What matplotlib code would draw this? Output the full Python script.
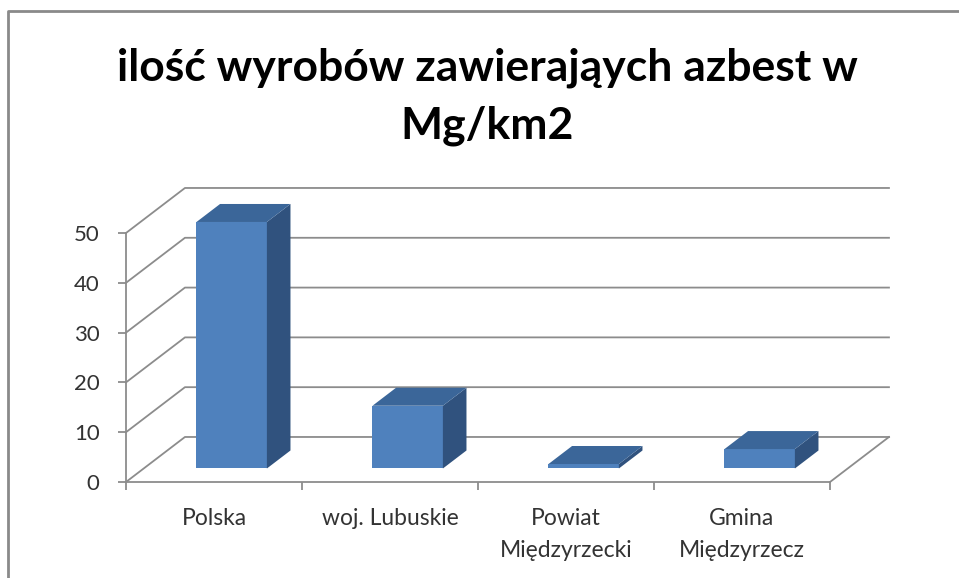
import matplotlib
matplotlib.use("Agg")
import matplotlib.pyplot as plt
from matplotlib.lines import Line2D
import numpy as np

plt.rcParams['font.family'] = ['Lato', 'DejaVu Sans']

categories = ["Polska", "woj. Lubuskie", "Powiat\nMiędzyrzecki", "Gmina\nMiędzyrzecz"]
values = [49.5, 12.6, 0.9, 3.9]
yticks = [0, 10, 20, 30, 40, 50]
title = "ilość wyrobów zawierająych azbest w\nMg/km2"

# 3D look parameters (in data units)
DX = 0.335   # depth shift along category axis
DY = 9.04    # depth shift along value axis
D0, D1 = 0.30, 0.70  # bar depth range (fractions)
BW = 0.4

front_c = "#4F81BD"
top_c = "#3B6699"
side_c = "#30527E"
grid_c = "#8C8C8C"
text_c = "#333333"

W, H = 959, 578
fig = plt.figure(figsize=(W / 100, H / 100), dpi=100)
ax = fig.add_axes([126 / W, (H - 482) / H, 704 / W, 249 / H])
n = len(categories)
ax.set_xlim(0, n)
ax.set_ylim(0, 50)

# wall / floor grid
for v in yticks:
    ax.plot([0, DX, n + DX], [v, v + DY, v + DY], color=grid_c, lw=1.3,
            clip_on=False, zorder=1)
ax.plot([n, n + DX], [0, DY], color=grid_c, lw=1.3, clip_on=False, zorder=1)

# bars
xc = np.arange(n) + 0.5
xf = xc + D0 * DX
bot = D0 * DY
ax.bar(xf, values, width=BW, bottom=bot, color=front_c, zorder=3, clip_on=False)
ddx = (D1 - D0) * DX
ddy = (D1 - D0) * DY
for x, v in zip(xf, values):
    xl, xr = x - BW / 2, x + BW / 2
    top = bot + v
    ax.fill([xr, xr + ddx, xr + ddx, xr], [bot, bot + ddy, top + ddy, top],
            color=side_c, zorder=3, clip_on=False, lw=0)
    ax.fill([xl, xr, xr + ddx, xl + ddx], [top, top, top + ddy, top + ddy],
            color=top_c, zorder=3, clip_on=False, lw=0)

# axes styling
for s in ["top", "right"]:
    ax.spines[s].set_visible(False)
for s in ["left", "bottom"]:
    ax.spines[s].set_color(grid_c)
    ax.spines[s].set_linewidth(1.3)
ax.set_yticks(yticks)
ax.set_yticklabels([str(t) for t in yticks])
ax.set_xticks(np.arange(n + 1))
ax.set_xticklabels([])
ax.set_xticks(xc, minor=True)
ax.set_xticklabels(categories, minor=True, linespacing=1.64)
ax.tick_params(axis="y", direction="out", length=6, width=1.3, color=grid_c,
               pad=13, labelsize=16, labelcolor=text_c)
ax.tick_params(axis="x", which="major", direction="out", length=6, width=1.3,
               color=grid_c)
ax.tick_params(axis="x", which="minor", length=0, pad=19, labelsize=16.5,
               labelcolor=text_c)
ax.set_facecolor("none")

fig.text(487 / W, 1 - 47 / H, title, ha="center", va="top", fontsize=32,
         fontweight="bold", color="black", linespacing=1.55)

# chart border
fig.add_artist(Line2D([8 / W, 8 / W, 1.0], [0.0, 1 - 11 / H, 1 - 11 / H],
                      transform=fig.transFigure, color="#8A8A8A", lw=2))

fig.savefig("out.png", dpi=100)
